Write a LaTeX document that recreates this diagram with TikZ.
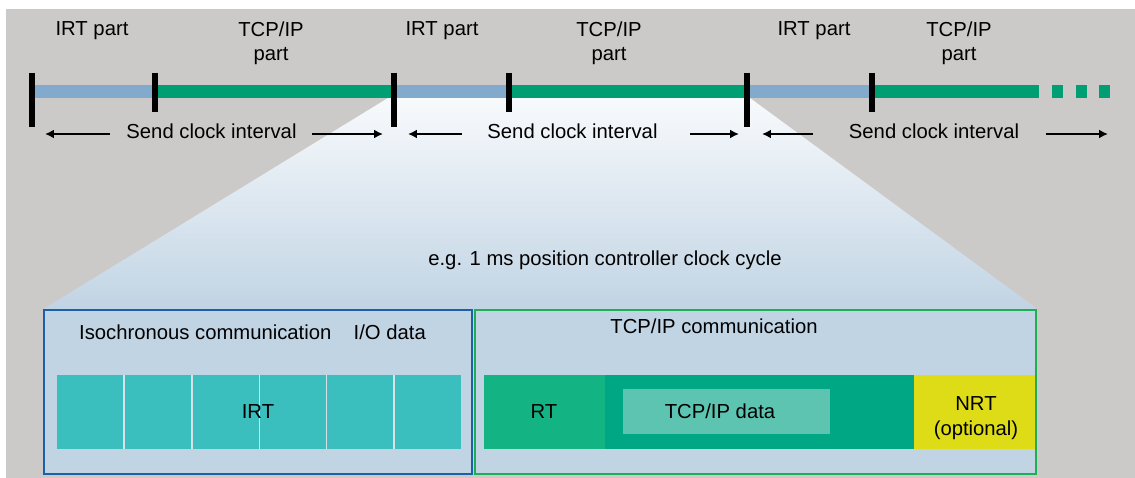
\documentclass[tikz,border=0pt]{standalone}
\usepackage{fontspec}
\setmainfont{Liberation Sans}
\usetikzlibrary{arrows.meta}

\begin{document}
\begin{tikzpicture}[x=0.03cm, y=-0.03cm,
        lbl/.style={font=\fontsize{17.3}{20.6}\selectfont, inner sep=0pt},
        tickmark/.style={line width=5.1pt},
        span/.style={line width=1.6pt, -{Latex[length=7.5pt,width=7.5pt]}}]
        \definecolor{bggray}{RGB}{204,202,200}
        \definecolor{irtblue}{RGB}{130,170,205}
        \definecolor{tcpgreen}{RGB}{0,158,115}
        \definecolor{fadetop}{RGB}{248,250,252}
        \definecolor{fademid}{RGB}{226,233,240}
        \definecolor{boxfill}{RGB}{193,212,228}
        \definecolor{isoblue}{RGB}{30,95,170}
        \definecolor{commgreen}{RGB}{30,175,85}
        \definecolor{irtteal}{RGB}{59,190,190}
        \definecolor{celllight}{RGB}{215,225,230}
        \definecolor{rtgreen}{RGB}{20,179,131}
        \definecolor{midgreen}{RGB}{0,167,133}
        \definecolor{datagreen}{RGB}{92,196,176}
        \definecolor{nrtyellow}{RGB}{222,220,23}

        \useasboundingbox (0,0) rectangle (1135,478);
        \fill[white] (0,0) rectangle (1135,478);
        \fill[bggray] (6,9) rectangle (1135,478);

        % zoom funnel
        \shade[top color=fadetop, middle color=fademid, bottom color=boxfill] (388,98) -- (750,98) -- (1036,308) -- (45,308) -- cycle;
        \fill[boxfill] (45,308) rectangle (1036,474);

        % send clock bar
        \fill[irtblue] (32,85) rectangle (155,98);
        \fill[tcpgreen] (155,85) rectangle (394,98);
        \fill[irtblue] (394,85) rectangle (509,98);
        \fill[tcpgreen] (509,85) rectangle (747,98);
        \fill[irtblue] (747,85) rectangle (872,98);
        \fill[tcpgreen] (872,85) rectangle (1039,98);
        \foreach \x in {1052,1075.5,1099}
            \fill[tcpgreen] (\x,85) rectangle ++(11,13);

        \foreach \x in {32,394,747}
            \draw[tickmark] (\x,73) -- (\x,127);
        \foreach \x in {155,509,872}
            \draw[tickmark] (\x,73) -- (\x,112);

        \node[lbl, anchor=base] (irt1) at (92,36) {IRT part};
        \node[lbl, anchor=north, align=center] (tcp1) at (271,21.5) {TCP/IP\\part};
        \node[lbl, anchor=base] (irt2) at (442,36) {IRT part};
        \node[lbl, anchor=north, align=center] (tcp2) at (609,21.5) {TCP/IP\\part};
        \node[lbl, anchor=base] (irt3) at (814,36) {IRT part};
        \node[lbl, anchor=north, align=center] (tcp3) at (959,21.5) {TCP/IP\\part};

        \node[lbl, anchor=base] (send1) at (211.5,138) {Send clock interval};
        \node[lbl, anchor=base] (send2) at (572.5,138) {Send clock interval};
        \node[lbl, anchor=base] (send3) at (934,138) {Send clock interval};

        \foreach \n/\x in {s1l/110, e1l/45, s1r/312, e1r/383, s2l/462, e2l/408,
                s2r/690, e2r/739, s3l/813, e3l/762, s3r/1046, e3r/1108}
            \coordinate (\n) at (\x,134);
        \draw[span] (s1l) -- (e1l);
        \draw[span] (s1r) -- (e1r);
        \draw[span] (s2l) -- (e2l);
        \draw[span] (s2r) -- (e2r);
        \draw[span] (s3l) -- (e3l);
        \draw[span] (s3r) -- (e3r);

        \node[lbl, anchor=base] (cycle) at (605,265) {e.g. 1 ms position controller clock cycle};

        % isochronous part
        \filldraw[fill=boxfill, draw=isoblue, line width=2pt] (44,310) rectangle (472,474);
        \node[lbl, anchor=base] (iso) at (252.5,339) {Isochronous communication\hspace{1.1em}I/O data};
        \fill[irtteal] (57,375) rectangle (461,449);
        \foreach \x in {124,192,259.5,326.5,394}
            \draw[celllight, line width=1.4pt] (\x,375) -- (\x,449);
        \node[lbl, anchor=base] (irt) at (258,418) {IRT};

        % TCP/IP part
        \filldraw[fill=boxfill, draw=commgreen, line width=2pt] (475,310) rectangle (1036,474);
        \node[lbl, anchor=base] (tcpcomm) at (714,333) {TCP/IP communication};
        \fill[rtgreen] (484,375) rectangle (605,449);
        \fill[midgreen] (605,375) rectangle (914,449);
        \fill[datagreen] (623,389) rectangle (830,434);
        \fill[nrtyellow] (914,375) rectangle (1035,449);
        \node[lbl, anchor=base] (rt) at (544,418) {RT};
        \node[lbl, anchor=base] (tcpdata) at (720,418) {TCP/IP data};
        \node[lbl, anchor=north, align=center] (nrt) at (976,396.7) {NRT\\(optional)};
    \end{tikzpicture}
\end{document}
